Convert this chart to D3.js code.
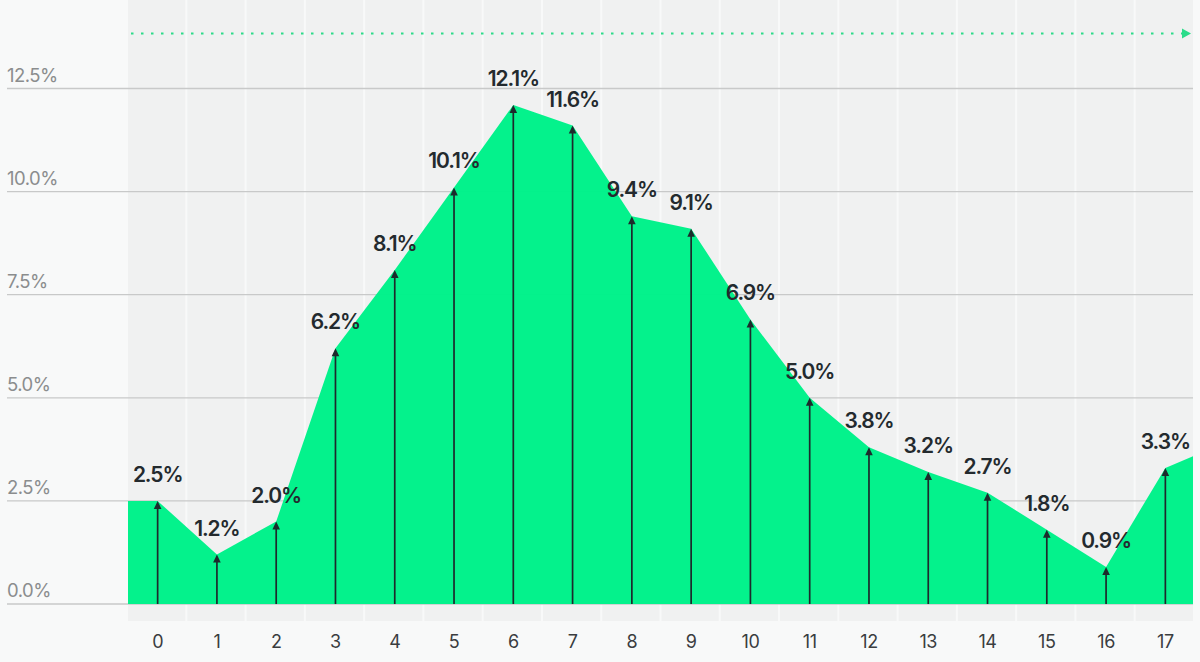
<!DOCTYPE html>
<html>
<head>
<meta charset="utf-8">
<script src="https://cdn.jsdelivr.net/npm/d3@7/dist/d3.min.js"></script>
<style>
  html, body { margin: 0; padding: 0; background: #f8f9f9; }
  svg { display: block; }
</style>
</head>
<body>
<svg id="chart" width="1200" height="662"></svg>
<script>
// ---- data ----
const categories = ["0","1","2","3","4","5","6","7","8","9","10","11","12","13","14","15","16","17"];
const values = [2.5, 1.2, 2.0, 6.2, 8.1, 10.1, 12.1, 11.6, 9.4, 9.1, 6.9, 5.0, 3.8, 3.2, 2.7, 1.8, 0.9, 3.3];
const valueLabels = ["2.5%","1.2%","2.0%","6.2%","8.1%","10.1%","12.1%","11.6%","9.4%","9.1%","6.9%","5.0%","3.8%","3.2%","2.7%","1.8%","0.9%","3.3%"];
const prevValue = 2.5;   // value just before the visible window
const nextValue = 3.9;   // value just after the visible window (partially visible)
const yTicks = [0, 2.5, 5, 7.5, 10, 12.5];
const yTickLabels = ["0.0%","2.5%","5.0%","7.5%","10.0%","12.5%"];

// ---- layout ----
const W = 1200, H = 662;
const plotLeft = 128, plotRight = 1195, gridLeft = 7;
const yZero = 604, yTop = 88.5;
const colBottom = 621;
const green = "#00f28a";
const dark = "#1d2a2c";
const font = "Inter, 'Helvetica Neue', Arial, sans-serif";

const svg = d3.select("#chart");

const x = d3.scaleBand().domain(categories).range([plotLeft, plotRight]).paddingInner(0).paddingOuter(0);
const bw = x.bandwidth();
const cx = c => x(c) + bw / 2;
const xi = d3.scaleLinear().domain([0, categories.length - 1]).range([cx(categories[0]), cx(categories[categories.length - 1])]);
const y = d3.scaleLinear().domain([0, 12.5]).range([yZero, yTop]);

// column stripes
svg.append("g").selectAll("rect").data(categories).join("rect")
  .attr("x", d => x(d))
  .attr("y", 0)
  .attr("width", bw - 2)
  .attr("height", colBottom)
  .attr("fill", "#f0f1f1");

// gridlines
svg.append("g").selectAll("line").data(yTicks).join("line")
  .attr("x1", gridLeft).attr("x2", plotRight - 2)
  .attr("y1", d => y(d)).attr("y2", d => y(d))
  .attr("stroke", "#c8c9c9").attr("stroke-width", 1.3);

// y tick labels
svg.append("g").selectAll("text").data(yTicks).join("text")
  .attr("x", gridLeft)
  .attr("y", d => y(d) - 7)
  .attr("fill", "#8b8d8e")
  .attr("font-family", font)
  .attr("font-size", 18.5)
  .attr("letter-spacing", -0.5)
  .text((d, i) => yTickLabels[i]);

// clip for area
svg.append("clipPath").attr("id", "plotClip")
  .append("rect").attr("x", plotLeft).attr("y", 0).attr("width", plotRight - 2 - plotLeft).attr("height", H);

const areaPts = [{i: -1, v: prevValue}]
  .concat(values.map((v, i) => ({i, v})))
  .concat([{i: values.length, v: nextValue}]);

const area = d3.area()
  .x(d => xi(d.i))
  .y0(y(0))
  .y1(d => y(d.v))
  .curve(d3.curveLinear);

svg.append("path")
  .datum(areaPts)
  .attr("clip-path", "url(#plotClip)")
  .attr("d", area)
  .attr("fill", green)
  .attr("fill-opacity", 0.985);

// stems
svg.append("g").selectAll("line").data(values).join("line")
  .attr("x1", (d, i) => xi(i)).attr("x2", (d, i) => xi(i))
  .attr("y1", y(0)).attr("y2", d => y(d) + 5)
  .attr("stroke", dark).attr("stroke-width", 1.7);

// arrowheads
svg.append("g").selectAll("path").data(values).join("path")
  .attr("d", (d, i) => {
    const px = xi(i), py = y(d);
    return d3.line()([[px - 3.8, py + 8], [px, py], [px + 3.8, py + 8]]) + "Z";
  })
  .attr("fill", dark);

// value labels
svg.append("g").selectAll("text").data(values).join("text")
  .attr("x", (d, i) => xi(i))
  .attr("y", d => y(d) - 19)
  .attr("text-anchor", "middle")
  .attr("fill", "#232a2e")
  .attr("font-family", font)
  .attr("font-size", 21)
  .attr("font-weight", 600)
  .attr("letter-spacing", -1.1)
  .text((d, i) => valueLabels[i]);

// x axis labels
svg.append("g").selectAll("text").data(categories).join("text")
  .attr("x", d => cx(d))
  .attr("y", 648)
  .attr("text-anchor", "middle")
  .attr("fill", "#3a3d3f")
  .attr("font-family", font)
  .attr("font-size", 18)
  .attr("letter-spacing", -0.4)
  .text(d => d);

// dotted arrow at top
const dotY = 33.5;
svg.append("line")
  .attr("x1", plotLeft + 3).attr("x2", 1182)
  .attr("y1", dotY).attr("y2", dotY)
  .attr("stroke", "#2bdc8a").attr("stroke-width", 2)
  .attr("stroke-dasharray", "2.5 7.5");
svg.append("path")
  .attr("d", d3.line()([[1182, dotY - 5], [1191, dotY], [1182, dotY + 5]]) + "Z")
  .attr("fill", "#2bdc8a");
</script>
</body>
</html>
